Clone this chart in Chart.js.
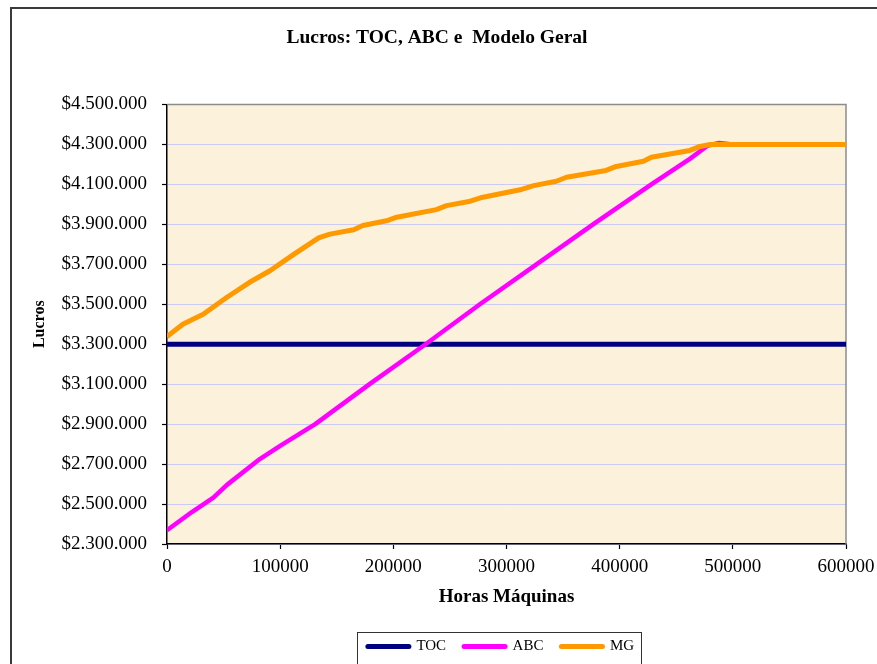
<!DOCTYPE html>
<html>
<head>
<meta charset="utf-8">
<title>Lucros: TOC, ABC e Modelo Geral</title>
<style>
  html, body { margin: 0; padding: 0; background: #ffffff; }
  #wrap { width: 877px; height: 664px; position: relative; overflow: hidden; }
  canvas { display: block; }
</style>
<script src="https://cdn.jsdelivr.net/npm/chart.js@4.4.1/dist/chart.umd.min.js"></script>
</head>
<body>
<div id="wrap"><canvas id="chart" width="877" height="664"></canvas></div>
<script>
// ---- data ---------------------------------------------------------------
const seriesNames = ['TOC', 'ABC', 'MG'];

// TOC: constant profit
const tocHoras  = [0, 600000];
const tocLucros = [3300000, 3300000];

// ABC: profit grows almost linearly with machine hours
const abcHoras  = [0, 22000, 41000, 53000, 82000, 101000, 131000, 179000, 228500,
                   276500, 326500, 376500, 428000, 462000, 478000, 488000, 500000, 600000];
const abcLucros = [2369000, 2460000, 2532000, 2596000, 2725000, 2795000, 2900000, 3100000, 3300000,
                   3500000, 3700000, 3900000, 4100000, 4228000, 4295000, 4307000, 4300000, 4300000];

// MG (Modelo Geral)
const mgHoras  = [0, 14000, 32000, 53000, 73000, 91000, 112000, 134000, 144000, 165000,
                  173000, 194000, 203000, 238000, 247000, 268000, 277000, 312000, 324000,
                  344000, 353000, 388000, 397000, 421000, 428000, 462000, 471000, 480000, 600000];
const mgLucros = [3338000, 3400000, 3450000, 3535000, 3610000, 3668000, 3750000, 3832000, 3851000, 3873000,
                  3894000, 3918000, 3936000, 3974000, 3994000, 4016000, 4033000, 4073000, 4094000,
                  4116000, 4136000, 4170000, 4190000, 4216000, 4236000, 4270000, 4290000, 4300000, 4300000];

// axis ticks
const yMin = 2300000, yMax = 4500000, yStep = 200000;
const xMin = 0, xMax = 600000, xStep = 100000;

// ---- styling ------------------------------------------------------------
const SERIF = "'Liberation Serif', 'Times New Roman', serif";
const COLORS = { TOC: '#000080', ABC: '#FF00FF', MG: '#FF9900' };
const PLOT_BG = '#FCF2DC';
const GRID = '#CACAF4';
const PAD = { left: 14, right: 31, top: 0, bottom: 0 };
const PLOT_LEFT = 167, PLOT_BOTTOM = 543;
const LEGEND_H = 44;

const toPoints = (xs, ys) => xs.map((x, i) => ({ x: x, y: ys[i] }));
const fmtMoney = v => '$' + Math.round(v).toString().replace(/\B(?=(\d{3})+(?!\d))/g, '.');

const makeSet = (name, xs, ys, width, order) => ({
  label: name,
  data: toPoints(xs, ys),
  borderColor: COLORS[name],
  backgroundColor: COLORS[name],
  borderWidth: width,
  pointRadius: 0,
  tension: 0,
  fill: false,
  borderJoinStyle: 'round',
  borderCapStyle: 'butt',
  order: order
});

// page background, outer frame and plot fill
const backdrop = {
  id: 'backdrop',
  beforeDraw(chart) {
    const { ctx, chartArea: a } = chart;
    ctx.save();
    ctx.fillStyle = '#ffffff';
    ctx.fillRect(0, 0, chart.width, chart.height);
    ctx.strokeStyle = '#3a3a3a';
    ctx.lineWidth = 2;
    ctx.beginPath();
    ctx.moveTo(11, chart.height + 2);
    ctx.lineTo(11, 8);
    ctx.lineTo(chart.width + 2, 8);
    ctx.stroke();
    ctx.fillStyle = PLOT_BG;
    ctx.fillRect(a.left, a.top, a.right - a.left, a.bottom - a.top);
    ctx.restore();
  },
  beforeDatasetsDraw(chart) {
    const { ctx, chartArea: a } = chart;
    ctx.save();
    ctx.strokeStyle = '#8c8c8c';
    ctx.lineWidth = 1.5;
    ctx.beginPath();
    ctx.moveTo(a.left, a.top);
    ctx.lineTo(a.right, a.top);
    ctx.lineTo(a.right, a.bottom);
    ctx.stroke();
    ctx.restore();
  }
};

// title and legend placement, legend frame
const placement = {
  id: 'placement',
  afterLayout(chart) {
    const t = chart.titleBlock;
    if (t) { t.left += 7; t.right += 7; }
    const lg = chart.legend;
    if (lg && lg.lineWidths) {
      const pad = lg.options.labels.padding;
      const itemsW = lg.lineWidths[0] - pad;
      const w = lg.right - lg.left;
      const start = 501 - itemsW / 2;                 // first item x
      lg.left = start - (pad + w - lg.lineWidths[0]) / 2;
      lg.right = lg.left + w;
      lg._itemsStart = start;
      lg._itemsEnd = start + itemsW;
    }
  },
  afterDraw(chart) {
    const lg = chart.legend;
    if (!lg || lg._itemsStart === undefined) return;
    const { ctx } = chart;
    ctx.save();
    ctx.strokeStyle = '#333333';
    ctx.lineWidth = 1;
    const l = Math.round(lg._itemsStart - 11) + 0.5;
    const r = Math.round(lg._itemsEnd + 7) + 0.5;
    const top = Math.round(lg.top + 11) + 0.5;
    ctx.strokeRect(l, top, r - l, chart.height + 20 - top);
    ctx.restore();
  }
};

new Chart(document.getElementById('chart'), {
  type: 'line',
  data: {
    datasets: [
      makeSet(seriesNames[0], tocHoras, tocLucros, 5, 3),
      makeSet(seriesNames[1], abcHoras, abcLucros, 4.5, 2),
      makeSet(seriesNames[2], mgHoras, mgLucros, 5, 1)
    ]
  },
  options: {
    responsive: false,
    animation: false,
    devicePixelRatio: 1,
    layout: { padding: PAD },
    scales: {
      x: {
        type: 'linear',
        min: xMin, max: xMax,
        ticks: {
          stepSize: xStep,
          callback: v => String(v),
          font: { family: SERIF, size: 19 },
          color: '#000',
          padding: 7,
          maxRotation: 0
        },
        grid: { drawOnChartArea: false, tickColor: '#000', tickLength: 5, tickWidth: 1.2 },
        border: { color: '#000', width: 1.5 },
        title: {
          display: true,
          text: 'Horas Máquinas',
          font: { family: SERIF, size: 19, weight: 'bold' },
          color: '#000',
          padding: { top: 0, bottom: 12.6 }
        },
        afterFit(s) {
          s.height = 664 - PAD.bottom - LEGEND_H - PLOT_BOTTOM;
          s.paddingLeft = 0;
          s.paddingRight = 0;
        }
      },
      y: {
        type: 'linear',
        min: yMin, max: yMax,
        ticks: {
          stepSize: yStep,
          callback: fmtMoney,
          font: { family: SERIF, size: 19 },
          color: '#000',
          padding: 15
        },
        grid: { color: GRID, lineWidth: 1, tickColor: '#000', tickLength: 5, tickWidth: 1.2 },
        border: { color: '#000', width: 1.5 },
        title: {
          display: true,
          text: 'Lucros',
          font: { family: SERIF, size: 16, weight: 'bold' },
          color: '#000',
          padding: { top: 16.4, bottom: 0 }
        },
        afterFit(s) { s.width = PLOT_LEFT - PAD.left; }
      }
    },
    plugins: {
      title: {
        display: true,
        text: 'Lucros: TOC, ABC e  Modelo Geral',
        font: { family: SERIF, size: 19.5, weight: 'bold' },
        color: '#000',
        padding: { top: 26.3, bottom: 54.8 }
      },
      legend: {
        display: true,
        position: 'bottom',
        maxHeight: LEGEND_H,
        labels: {
          usePointStyle: true,
          pointStyleWidth: 41,
          padding: 18,
          color: '#000',
          font: { family: SERIF, size: 15 },
          generateLabels(chart) {
            return chart.data.datasets.map((ds, i) => ({
              text: ds.label,
              datasetIndex: i,
              fillStyle: ds.borderColor,
              strokeStyle: ds.borderColor,
              lineWidth: 5,
              lineCap: 'round',
              pointStyle: 'line',
              hidden: false,
              fontColor: '#000'
            }));
          }
        }
      },
      tooltip: { enabled: false }
    }
  },
  plugins: [backdrop, placement]
});
</script>
</body>
</html>
